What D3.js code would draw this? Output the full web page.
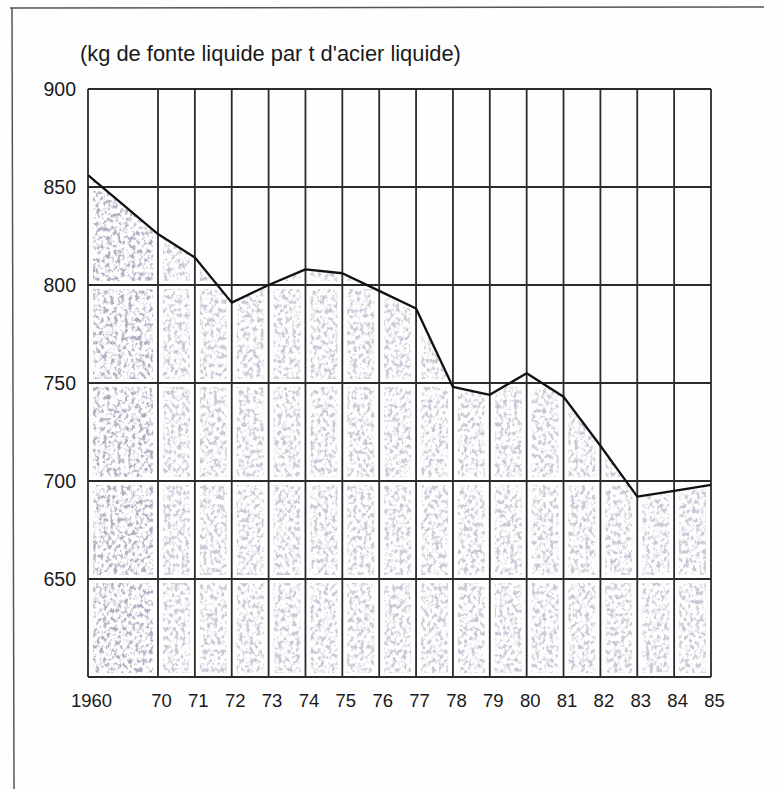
<!DOCTYPE html>
<html><head><meta charset="utf-8">
<script src="https://cdn.jsdelivr.net/npm/d3@7/dist/d3.min.js"></script>
<style>
html,body{margin:0;padding:0;background:#fefefe;}
svg{display:block;}
text{font-family:"Liberation Sans",Arial,Helvetica,sans-serif;fill:#1a1a1a;}
</style></head>
<body>
<svg id="c" width="779" height="789"></svg>
<script>
// ---- data ----
const years = [1960, 1970, 1971, 1972, 1973, 1974, 1975, 1976, 1977, 1978, 1979, 1980, 1981, 1982, 1983, 1984, 1985];
const values = [856, 826, 814, 791, 800, 808, 806, 797, 788, 748, 744, 755, 743, 718, 692, 695, 698];
const xTickLabels = ["1960","70","71","72","73","74","75","76","77","78","79","80","81","82","83","84","85"];
const yTicks = [650, 700, 750, 800, 850, 900];
const title = "(kg de fonte liquide par t d'acier liquide)";

// ---- layout ----
const svg = d3.select("#c");
const L = 88, R = 711, T = 89, B = 677;
const x = d3.scaleLinear().domain([1960, 1970, 1985]).range([L, 158, R]);
const y = d3.scaleLinear().domain([600, 900]).range([B, T]);

// outer frame lines of the scanned page
svg.append("line").attr("x1", 10).attr("y1", 8).attr("x2", 764).attr("y2", 7)
  .attr("stroke", "#555").attr("stroke-width", 1.5);
svg.append("line").attr("x1", 12).attr("y1", 8).attr("x2", 14).attr("y2", 789)
  .attr("stroke", "#555").attr("stroke-width", 1.5);

const defs = svg.append("defs");
const f = defs.append("filter").attr("id", "speckle")
  .attr("x", 0).attr("y", 0).attr("width", 1).attr("height", 1)
  .attr("filterUnits", "objectBoundingBox");
f.append("feTurbulence").attr("type", "fractalNoise").attr("baseFrequency", "0.28 0.22")
  .attr("numOctaves", 3).attr("seed", 11).attr("result", "n");
f.append("feColorMatrix").attr("type", "matrix")
  .attr("values", "0 0 0 0 0.38  0 0 0 0 0.38  0 0 0 0 0.50  4.2 0 0 0 -1.95");

// clip to area under the curve
const area = d3.area().x((d, i) => x(years[i])).y0(y(600)).y1(d => y(d));
defs.append("clipPath").attr("id", "areaClip")
  .append("path").attr("d", area(values));

// mask of cells (texture sits inside each grid cell with small white margins)
const mask = defs.append("mask").attr("id", "cellMask");
const rowEdges = [600].concat(yTicks);
for (let c = 0; c < years.length - 1; c++) {
  for (let r = 0; r < rowEdges.length - 1; r++) {
    const x0 = x(years[c]) + 5, x1 = x(years[c + 1]) - 5;
    const y0 = y(rowEdges[r + 1]) + 4, y1 = y(rowEdges[r]) - 4;
    mask.append("rect").attr("x", x0).attr("y", y0)
      .attr("width", x1 - x0).attr("height", y1 - y0)
      .attr("fill", c === 0 ? "#e8e8e8" : "#a0a0a0");
  }
}

svg.append("g").attr("clip-path", "url(#areaClip)")
  .append("rect").attr("x", L).attr("y", T).attr("width", R - L).attr("height", B - T)
  .attr("fill", "#fff").attr("filter", "url(#speckle)").attr("mask", "url(#cellMask)");

// grid
const grid = svg.append("g").attr("stroke", "#2a2a2a").attr("stroke-width", 1.8);
grid.selectAll(".v").data(years).join("line")
  .attr("x1", d => x(d)).attr("x2", d => x(d)).attr("y1", T).attr("y2", B);
grid.selectAll(".h").data([600].concat(yTicks)).join("line")
  .attr("x1", L).attr("x2", R).attr("y1", d => y(d)).attr("y2", d => y(d));

// data line
svg.append("path").datum(values)
  .attr("d", d3.line().x((d, i) => x(years[i])).y(d => y(d)))
  .attr("fill", "none").attr("stroke", "#111").attr("stroke-width", 2.3)
  .attr("stroke-linejoin", "round");

// axes
const xAxis = d3.axisBottom(x).tickValues(years).tickSize(0).tickPadding(0)
  .tickFormat((d, i) => xTickLabels[i]);
const gx = svg.append("g").attr("transform", `translate(3,${B + 24})`).call(xAxis);
gx.select(".domain").remove();
gx.selectAll("text").attr("font-size", 18.5).attr("dy", "0.35em")
  .attr("font-family", '"Liberation Sans",Arial,sans-serif').attr("fill", "#1a1a1a");

const yAxis = d3.axisLeft(y).tickValues(yTicks).tickSize(0).tickPadding(12);
const gy = svg.append("g").attr("transform", `translate(${L},0)`).call(yAxis);
gy.select(".domain").remove();
gy.selectAll("text").attr("font-size", 19.5)
  .attr("font-family", '"Liberation Sans",Arial,sans-serif').attr("fill", "#1a1a1a");

// title
const t = svg.append("text").attr("x", 80).attr("y", 61).attr("font-size", 17).text(title);
const w = t.node().getComputedTextLength();
t.attr("font-size", 17 * 381 / w);
</script>
</body></html>
